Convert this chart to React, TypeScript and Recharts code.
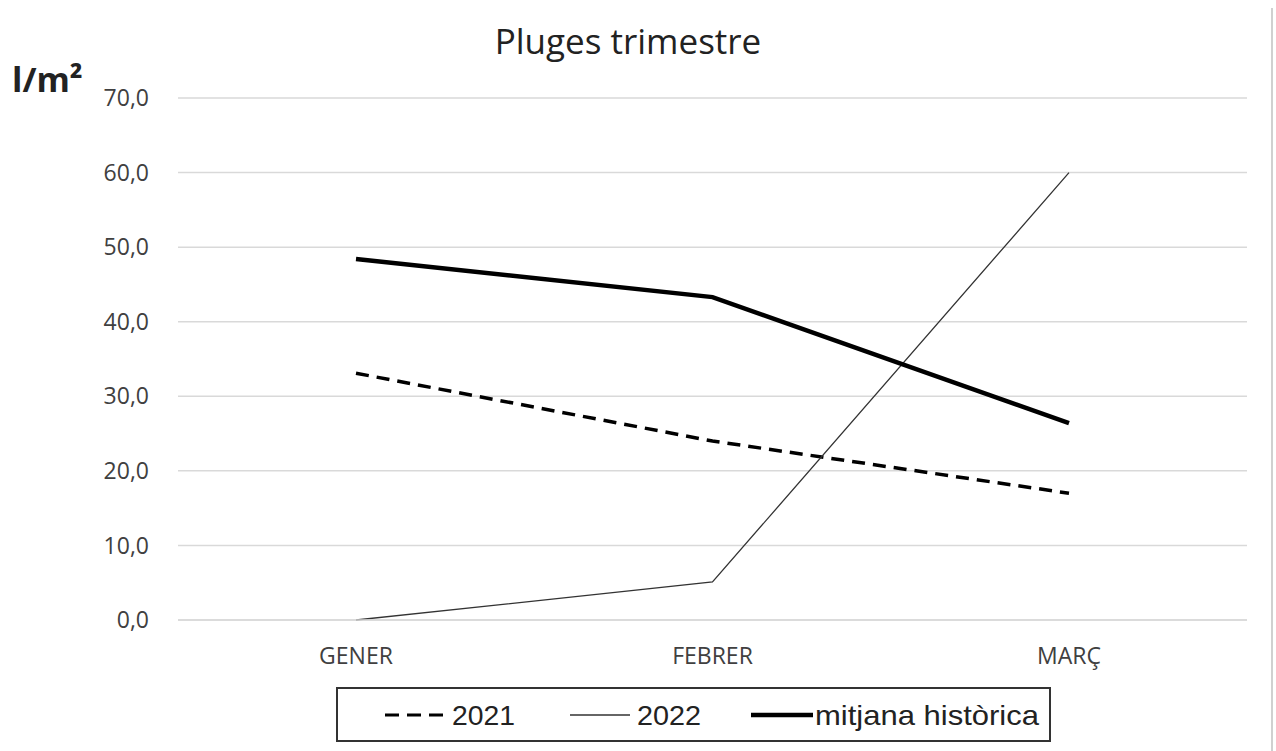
import React from 'react';
import { LineChart, Line, XAxis, YAxis, CartesianGrid } from 'recharts';

const months = ['GENER', 'FEBRER', 'MARÇ'];
const values2021 = [33.1, 24.0, 17.0];
const values2022 = [0.0, 5.1, 60.0];
const valuesMitjana = [48.4, 43.3, 26.4];
const yTicks = [0, 10, 20, 30, 40, 50, 60, 70];

const data = months.map((m, i) => ({
  month: m,
  y2021: values2021[i],
  y2022: values2022[i],
  mitjana: valuesMitjana[i],
}));

const tickFont = { fill: '#404040', fontSize: 23, fontFamily: "'Open Sans', sans-serif" };
const legendFont = "'Liberation Sans Narrow', 'Arial Narrow', 'Liberation Sans', sans-serif";

export default function App() {
  return (
    <div style={{ position: 'absolute', left: 0, top: 0, width: 1276, height: 751, background: '#fff', overflow: 'hidden' }}>
      <LineChart width={1276} height={751} data={data} margin={{ top: 98, right: 29, bottom: 91, left: 0 }}>
        <CartesianGrid vertical={false} stroke="#d9d9d9" strokeWidth={1.5} />
        <XAxis
          dataKey="month"
          height={40}
          padding={{ left: 178, right: 178 }}
          axisLine={{ stroke: '#d9d9d9', strokeWidth: 1.5 }}
          tickLine={false}
          tickSize={0}
          tickMargin={28}
          tick={tickFont}
        />
        <YAxis
          width={178}
          domain={[0, 70]}
          ticks={yTicks}
          interval={0}
          tickFormatter={(v: number) => v.toFixed(1).replace('.', ',')}
          axisLine={false}
          tickLine={false}
          tickSize={0}
          tickMargin={29}
          tick={tickFont}
        />
        <Line dataKey="y2021" stroke="#000" strokeWidth={3.5} strokeDasharray="13 8" dot={false} isAnimationActive={false} />
        <Line dataKey="y2022" stroke="#333" strokeWidth={1.3} dot={false} isAnimationActive={false} />
        <Line dataKey="mitjana" stroke="#000" strokeWidth={4.5} dot={false} isAnimationActive={false} />
      </LineChart>
      <svg width={1276} height={751} style={{ position: 'absolute', left: 0, top: 0, pointerEvents: 'none' }}>
        <text x={628} y={54} textAnchor="middle" fontSize={35} fill="#222" fontFamily="'Open Sans', sans-serif">
          Pluges trimestre
        </text>
        <text x={12} y={92} fontSize={34} fontWeight="bold" fill="#222" fontFamily="'Open Sans', sans-serif">
          l/m²
        </text>
        <line x1={1272} y1={8} x2={1272} y2={751} stroke="#d0d0d0" strokeWidth={2} />
        <rect x={337} y={688} width={713} height={53} fill="#fff" stroke="#333" strokeWidth={2} />
        <line x1={385} y1={715} x2={443} y2={715} stroke="#000" strokeWidth={3} strokeDasharray="14 8" />
        <text x={452} y={725} fontSize={28} fill="#222" fontFamily={legendFont} textLength={63} lengthAdjust="spacingAndGlyphs">2021</text>
        <line x1={570} y1={715} x2={630} y2={715} stroke="#333" strokeWidth={1.3} />
        <text x={637} y={725} fontSize={28} fill="#222" fontFamily={legendFont} textLength={64} lengthAdjust="spacingAndGlyphs">2022</text>
        <line x1={751} y1={715} x2={813} y2={715} stroke="#000" strokeWidth={4.5} />
        <text x={815} y={725} fontSize={28} fill="#222" fontFamily={legendFont} textLength={224} lengthAdjust="spacingAndGlyphs">mitjana històrica</text>
      </svg>
    </div>
  );
}
